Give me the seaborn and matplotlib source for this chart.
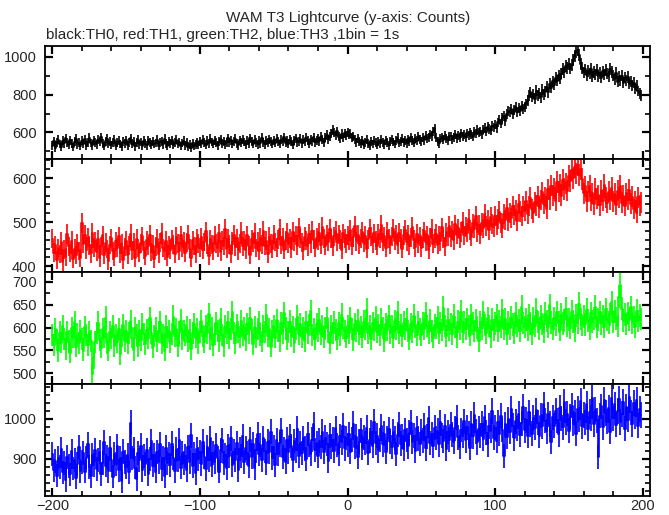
import numpy as np
import matplotlib
matplotlib.use("Agg")
import matplotlib.pyplot as plt
import seaborn as sns
from matplotlib.ticker import MultipleLocator

# time bins (1 bin = 1 s)
time = np.arange(-200, 200)

th0 = [
    530, 552, 518, 547, 561, 539, 525, 556, 543, 570,
    548, 533, 559, 541, 522, 550, 566, 537, 545, 528,
    555, 541, 563, 529, 548, 572, 544, 531, 558, 547,
    536, 560, 549, 575, 542, 527, 553, 566, 540, 551,
    533, 548, 561, 529, 545, 556, 538, 524, 550, 543,
    559, 532, 547, 568, 541, 553, 526, 545, 562, 537,
    549, 528, 555, 540, 531, 557, 546, 534, 552, 539,
    544, 561, 530, 548, 553, 536, 566, 542, 529, 551,
    540, 557, 533, 546, 562, 538, 549, 527, 544, 555,
    531, 548, 524, 536, 519, 542, 528, 537, 545, 533,
    552, 539, 561, 546, 534, 556, 543, 567, 549, 538,
    558, 545, 532, 551, 563, 540, 554, 536, 548, 570,
    547, 559, 538, 552, 566, 543, 531, 557, 545, 562,
    549, 535, 556, 541, 568, 553, 539, 560, 547, 536,
    555, 542, 571, 548, 537, 559, 546, 564, 551, 539,
    557, 544, 566, 552, 538, 561, 549, 573, 545, 556,
    540, 562, 551, 535, 558, 569, 547, 553, 566, 542,
    560, 549, 571, 555, 541, 564, 552, 575, 547, 559,
    568, 553, 577, 561, 548, 572, 586, 564, 579, 595,
    612, 598, 584, 605, 577, 569, 591, 574, 596, 583,
    601, 588, 592, 571, 579, 563, 548, 566, 552, 540,
    557, 535, 548, 561, 543, 529, 552, 538, 556, 547,
    533, 554, 542, 560, 547, 536, 558, 545, 531, 552,
    564, 549, 538, 556, 571, 544, 553, 567, 548, 559,
    542, 563, 551, 574, 557, 546, 568, 555, 579, 561,
    552, 571, 558, 583, 566, 574, 590, 581, 604, 622,
    571, 552, 543, 566, 574, 561, 583, 569, 558, 579,
    580, 563, 574, 589, 568, 584, 571, 595, 579, 588,
    575, 596, 584, 601, 589, 578, 605, 593, 612, 598,
    606, 589, 614, 623, 603, 631, 617, 609, 635, 626,
    641, 622, 653, 668, 647, 676, 689, 662, 698, 712,
    706, 725, 697, 718, 734, 709, 728, 715, 741, 722,
    736, 751, 768, 795, 812, 788, 803, 779, 821, 796,
    808, 785, 827, 801, 818, 843, 812, 859, 836, 871,
    852, 889, 874, 903, 885, 912, 937, 918, 951, 942,
    961, 938, 957, 982, 1003, 1028, 1035, 1012, 963, 941,
    918, 934, 902, 925, 911, 937, 896, 921, 908, 930,
    897, 915, 889, 924, 906, 931, 912, 898, 937, 921,
    903, 882, 914, 869, 895, 877, 901, 862, 889, 876,
    893, 858, 871, 847, 864, 832, 851, 819, 808, 796,
]

th1 = [
    462, 431, 448, 415, 441, 427, 456, 409, 438, 421,
    473, 445, 430, 458, 417, 440, 426, 452, 434, 419,
    498, 451, 472, 438, 465, 447, 429, 476, 443, 457,
    432, 461, 418, 446, 470, 425, 453, 439, 412, 448,
    463, 435, 421, 457, 442, 468, 429, 451, 415, 444,
    458, 426, 447, 473, 436, 455, 419, 462, 441, 430,
    452, 468, 437, 424, 459, 446, 471, 433, 449, 416,
    445, 462, 428, 453, 476, 441, 434, 458, 421, 447,
    438, 461, 449, 427, 467, 452, 435, 470, 443, 457,
    431, 454, 472, 440, 418, 459, 446, 428, 463, 451,
    442, 466, 437, 455, 479, 448, 423, 461, 450, 434,
    469, 452, 441, 475, 433, 458, 446, 484, 439, 462,
    449, 427, 456, 471, 444, 463, 436, 452, 478, 445,
    459, 438, 470, 447, 425, 461, 453, 476, 441, 456,
    434, 465, 449, 480, 446, 458, 428, 467, 451, 439,
    472, 455, 443, 461, 485, 448, 466, 437, 459, 476,
    451, 463, 440, 478, 457, 469, 446, 488, 462, 453,
    436, 467, 459, 445, 473, 452, 481, 460, 441, 465,
    458, 476, 449, 490, 463, 447, 471, 456, 484, 462,
    444, 468, 481, 455, 472, 460, 438, 475, 463, 451,
    470, 459, 483, 446, 466, 491, 457, 472, 448, 464,
    478, 453, 469, 440, 461, 486, 467, 452, 475, 458,
    446, 473, 462, 494, 455, 468, 441, 479, 463, 450,
    467, 485, 458, 472, 449, 476, 464, 439, 470, 482,
    456, 471, 447, 466, 489, 460, 443, 474, 452, 468,
    441, 463, 479, 455, 470, 437, 466, 484, 451, 462,
    474, 448, 469, 457, 488, 463, 445, 477, 468, 492,
    466, 481, 459, 495, 472, 486, 463, 478, 501, 470,
    489, 476, 508, 482, 467, 497, 485, 514, 478, 493,
    472, 499, 486, 519, 491, 505, 482, 511, 496, 488,
    515, 493, 507, 524, 498, 486, 519, 505, 531, 502,
    520, 509, 536, 517, 528, 503, 541, 524, 513, 535,
    526, 548, 519, 537, 555, 530, 521, 546, 538, 559,
    533, 550, 568, 541, 557, 529, 574, 552, 583, 561,
    577, 548, 591, 569, 584, 560, 596, 575, 588, 571,
    605, 593, 618, 599, 624, 610, 629, 606, 621, 598,
    566, 581, 547, 569, 582, 548, 565, 540, 576, 553,
    561, 538, 572, 549, 585, 556, 543, 569, 552, 578,
    547, 564, 539, 571, 555, 582, 544, 560, 536, 566,
    551, 573, 542, 558, 529, 547, 521, 556, 538, 545,
]

th2 = [
    583, 561, 596, 572, 548, 589, 567, 604, 575, 553,
    591, 570, 545, 598, 579, 612, 558, 586, 566, 593,
    574, 549, 601, 583, 562, 590, 571, 497, 532, 568,
    587, 611, 573, 556, 596, 580, 622, 565, 549, 591,
    576, 603, 559, 584, 568, 597, 542, 581, 606, 570,
    593, 565, 587, 614, 578, 551, 599, 583, 560, 592,
    572, 608, 585, 563, 595, 577, 620, 589, 556, 581,
    598, 571, 590, 612, 566, 584, 549, 602, 579, 593,
    567, 586, 624, 581, 597, 560, 589, 615, 574, 592,
    583, 601, 569, 594, 553, 588, 607, 578, 596, 565,
    590, 614, 582, 568, 603, 587, 629, 575, 598, 561,
    585, 609, 593, 571, 618, 584, 560, 602, 589, 612,
    576, 597, 633, 588, 566, 605, 591, 579, 614, 583,
    599, 572, 608, 587, 621, 594, 563, 601, 578, 596,
    611, 584, 569, 603, 590, 627, 581, 596, 558, 592,
    604, 578, 616, 593, 571, 609, 587, 632, 598, 575,
    590, 613, 582, 601, 567, 596, 624, 585, 607, 579,
    598, 571, 612, 589, 605, 636, 583, 597, 574, 608,
    592, 617, 586, 603, 579, 598, 621, 590, 566, 604,
    587, 611, 595, 574, 609, 583, 628, 599, 592, 578,
    604, 589, 621, 596, 572, 608, 593, 615, 586, 601,
    579, 613, 597, 639, 588, 603, 574, 610, 595, 622,
    591, 606, 583, 617, 599, 570, 608, 594, 625, 587,
    602, 578, 614, 596, 633, 589, 605, 581, 611, 597,
    618, 593, 575, 607, 590, 626, 601, 584, 612, 596,
    583, 609, 597, 631, 604, 588, 615, 592, 578, 606,
    599, 622, 587, 610, 595, 643, 603, 581, 617, 594,
    608, 586, 626, 601, 579, 613, 597, 635, 590, 611,
    596, 619, 604, 583, 627, 609, 592, 615, 600, 571,
    612, 598, 634, 606, 589, 621, 603, 580, 617, 594,
    609, 626, 592, 614, 601, 638, 596, 619, 585, 611,
    598, 623, 607, 589, 632, 604, 616, 593, 645, 610,
    601, 618, 594, 627, 609, 586, 621, 603, 639, 612,
    597, 624, 608, 591, 630, 614, 602, 649, 611, 596,
    620, 605, 633, 612, 594, 628, 609, 616, 641, 603,
    618, 600, 635, 613, 592, 627, 610, 652, 619, 605,
    624, 607, 639, 615, 598, 631, 613, 620, 646, 601,
    617, 634, 609, 625, 602, 640, 618, 611, 629, 655,
    612, 636, 620, 604, 668, 693, 641, 615, 628, 608,
    632, 617, 644, 610, 623, 601, 637, 614, 626, 619,
]

th3 = [
    912, 871, 895, 858, 903, 879, 924, 866, 890, 847,
    905, 882, 861, 919, 876, 898, 853, 887, 929, 870,
    893, 914, 868, 901, 936, 880, 857, 909, 884, 922,
    875, 897, 916, 862, 890, 941, 883, 905, 869, 926,
    898, 855, 912, 887, 931, 871, 903, 844, 918, 892,
    880, 909, 867, 990, 902, 925, 878, 849, 914, 896,
    933, 872, 906, 888, 921, 861, 899, 944, 883, 910,
    868, 917, 893, 936, 875, 902, 857, 928, 890, 911,
    884, 938, 901, 869, 923, 896, 947, 878, 915, 889,
    906, 872, 930, 893, 959, 881, 912, 865, 924, 900,
    917, 886, 943, 905, 874, 929, 896, 952, 883, 914,
    891, 935, 902, 868, 921, 946, 889, 910, 877, 932,
    906, 951, 884, 918, 897, 939, 871, 925, 908, 956,
    893, 927, 915, 882, 948, 904, 936, 876, 921, 961,
    911, 934, 898, 952, 920, 889, 943, 916, 968, 902,
    929, 885, 947, 913, 936, 971, 904, 925, 891, 948,
    918, 957, 932, 896, 944, 921, 975, 908, 939, 914,
    951, 926, 899, 962, 935, 913, 948, 986, 922, 940,
    907, 945, 929, 968, 916, 953, 937, 894, 959, 931,
    948, 920, 976, 934, 911, 957, 941, 983, 926, 952,
    935, 962, 918, 949, 987, 930, 955, 905, 943, 971,
    928, 953, 939, 977, 914, 946, 966, 932, 993, 940,
    958, 921, 947, 981, 936, 963, 917, 952, 974, 943,
    929, 968, 950, 911, 960, 985, 938, 956, 924, 972,
    947, 931, 965, 990, 942, 958, 919, 976, 951, 937,
    969, 946, 983, 926, 955, 1001, 940, 962, 933, 978,
    952, 970, 936, 991, 959, 944, 981, 925, 967, 948,
    985, 961, 942, 976, 1003, 954, 930, 972, 958, 994,
    946, 979, 963, 927, 988, 956, 1010, 968, 941, 975,
    959, 987, 950, 1004, 965, 936, 982, 970, 1019, 953,
    977, 944, 991, 962, 1008, 972, 908, 986, 955, 999,
    968, 1025, 983, 951, 994, 976, 1013, 960, 989, 1030,
    971, 997, 958, 1016, 985, 963, 1002, 978, 1021, 990,
    957, 1008, 981, 1036, 995, 969, 1011, 987, 942, 1004,
    983, 1019, 996, 961, 1027, 1001, 979, 1042, 992, 1013,
    970, 1006, 1033, 988, 1015, 963, 1024, 999, 1045, 982,
    1010, 991, 1037, 975, 1018, 1002, 1051, 987, 1022, 996,
    905, 1008, 1031, 979, 1046, 1014, 993, 1027, 968, 1053,
    1001, 1036, 985, 1020, 1049, 992, 1012, 1041, 975, 1030,
    998, 1055, 1016, 987, 1039, 1007, 1048, 983, 1024, 1009,
]

series = [th0, th1, th2, th3]
colors = ["black", "#ff0000", "#00ff00", "#0000ff"]
ylims = [(459, 1058), (387, 643), (476, 722), (807, 1087)]
major = [200, 100, 50, 100]
minor = [100, 20, 25, 20]

sns.set_style("ticks")
plt.rcParams["font.family"] = ["Liberation Sans", "DejaVu Sans"]

fig = plt.figure(figsize=(6.69, 5.15), dpi=100)

# panel boxes in figure fraction (left, bottom, width, height)
boxes = [
    (0.0673, 0.6913, 0.9043, 0.2194),
    (0.0673, 0.4718, 0.9043, 0.2194),
    (0.0673, 0.2544, 0.9043, 0.2175),
    (0.0673, 0.0369, 0.9043, 0.2175),
]

for i, (vals, col) in enumerate(zip(series, colors)):
    ax = fig.add_axes(boxes[i])
    y = np.array(vals, dtype=float)
    err = np.sqrt(y)
    ax.vlines(time, y - err, y + err, color=col, linewidth=1.2)
    sns.lineplot(x=time, y=y, ax=ax, color=col, linewidth=1.2,
                 drawstyle="steps-mid", estimator=None)
    ax.set_xlim(-205, 205)
    ax.set_ylim(*ylims[i])
    ax.xaxis.set_major_locator(MultipleLocator(100))
    ax.xaxis.set_minor_locator(MultipleLocator(20))
    ax.yaxis.set_major_locator(MultipleLocator(major[i]))
    ax.yaxis.set_minor_locator(MultipleLocator(minor[i]))
    ax.tick_params(which="both", direction="in", top=True, right=True,
                   color="black")
    ax.tick_params(which="major", length=6, width=1.6, labelsize=10.5)
    ax.tick_params(axis="y", which="major", pad=6)
    ax.tick_params(axis="x", which="major", pad=2)
    ax.tick_params(which="minor", length=3.5, width=1.2)
    for sp in ax.spines.values():
        sp.set_linewidth(1.3)
        sp.set_color("black")
    ax.set_xlabel("")
    ax.set_ylabel("")
    if i < 3:
        ax.tick_params(labelbottom=False)

fig.text(0.52, 0.966, "WAM T3 Lightcurve (y-axis: Counts)", ha="center",
         va="center", fontsize=11)
fig.text(0.069, 0.932, "black:TH0, red:TH1, green:TH2, blue:TH3 ,1bin = 1s",
         ha="left", va="center", fontsize=11)

fig.savefig("out.png", dpi=100)
plt.close(fig)
